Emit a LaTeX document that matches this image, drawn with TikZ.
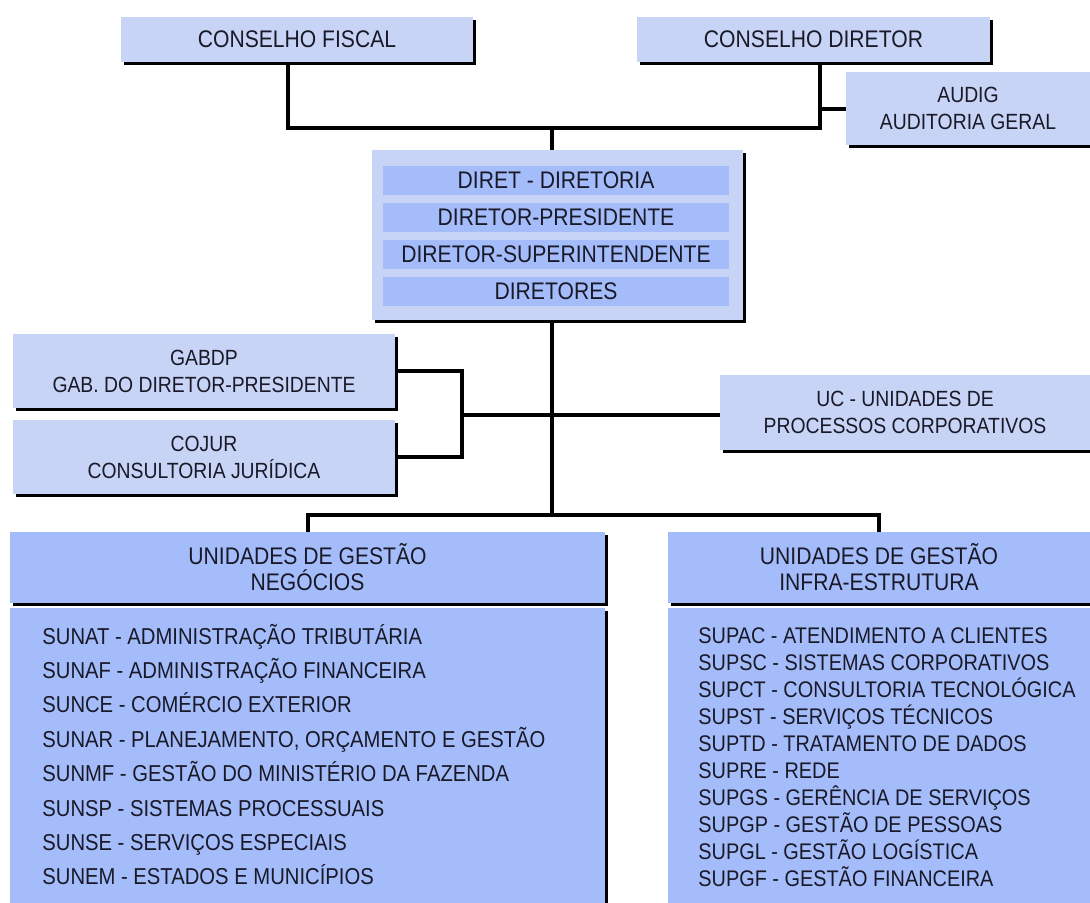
\documentclass[tikz,border=0pt]{standalone}
\usepackage{fontspec}
\setmainfont{Liberation Sans}[FakeStretch=0.88]
\usepackage{tikz}
\usetikzlibrary{shadows,positioning,calc}
\definecolor{boxlight}{RGB}{200,212,246}
\definecolor{boxdark}{RGB}{164,188,250}
\definecolor{ink}{RGB}{25,25,40}

\begin{document}
\begin{tikzpicture}[x=0.5pt,y=-0.5pt,
    orgbox/.style={fill=boxlight,text=ink,align=center,inner sep=0pt,
      font=\fontsize{12}{13}\selectfont,
      drop shadow={shadow xshift=1.5pt,shadow yshift=-1.5pt,fill=black,opacity=1}},
    sidebox/.style={orgbox,font=\fontsize{11}{13.5}\selectfont},
    unitbox/.style={orgbox,fill=boxdark},
    barbox/.style={fill=boxdark,text=ink,inner sep=0pt,minimum width=173pt,
      minimum height=14.5pt,font=\fontsize{12}{13}\selectfont},
    listtext/.style={anchor=base west,inner sep=0pt,text=ink,
      font=\fontsize{11.5}{13}\selectfont},
    link/.style={line width=2pt,line join=miter}]
  \useasboundingbox (0,0) rectangle (1090,902);

  % conselhos
  \node[orgbox,minimum width=176pt,minimum height=22.5pt](fiscal) at (297,39.5) {CONSELHO FISCAL};
  \node[orgbox,minimum width=176.5pt,minimum height=22.5pt](diretor) at (813.5,39.5) {CONSELHO DIRETOR};
  \node[sidebox,minimum width=122pt,minimum height=36.5pt](audig) at (968,108.5) {AUDIG\\AUDITORIA GERAL};

  % diretoria
  \node[orgbox,minimum width=185.5pt,minimum height=85pt](diret) at (557.5,235) {};
  \foreach \txt [count=\i] in {DIRET - DIRETORIA,DIRETOR-PRESIDENTE,DIRETOR-SUPERINTENDENTE,DIRETORES}
    \node[barbox](bar\i) at (556,{180+37*(\i-1)}) {\txt};

  % assessorias
  \node[sidebox,minimum width=191pt,minimum height=37pt](gabdp) at (204,371) {GABDP\\GAB. DO DIRETOR-PRESIDENTE};
  \node[sidebox,minimum width=191pt,minimum height=37pt](cojur) at (204,457) {COJUR\\CONSULTORIA JURÍDICA};
  \node[sidebox,minimum width=185pt,minimum height=37.5pt](uc) at (905,412.5) {UC - UNIDADES DE\\PROCESSOS CORPORATIVOS};

  % unidades de gestao
  \node[unitbox,minimum width=297.5pt,minimum height=35.5pt](neghead) at (307.5,567.5) {UNIDADES DE GESTÃO\\NEGÓCIOS};
  \node[unitbox,minimum width=297.5pt,minimum height=152pt](negbody) at (307.5,760) {};
  \node[unitbox,minimum width=211pt,minimum height=35.5pt](infrahead) at (879,567.5) {UNIDADES DE GESTÃO\\INFRA-ESTRUTURA};
  \node[unitbox,minimum width=211pt,minimum height=152pt](infrabody) at (879,760) {};

  \foreach \txt [count=\i] in {SUNAT - ADMINISTRAÇÃO TRIBUTÁRIA,SUNAF - ADMINISTRAÇÃO FINANCEIRA,
      SUNCE - COMÉRCIO EXTERIOR,{SUNAR - PLANEJAMENTO, ORÇAMENTO E GESTÃO},
      SUNMF - GESTÃO DO MINISTÉRIO DA FAZENDA,SUNSP - SISTEMAS PROCESSUAIS,
      SUNSE - SERVIÇOS ESPECIAIS,SUNEM - ESTADOS E MUNICÍPIOS}
    \node[listtext](neg\i) at (42,{644+34.4*(\i-1)}) {\txt};
  \foreach \txt [count=\i] in {SUPAC - ATENDIMENTO A CLIENTES,SUPSC - SISTEMAS CORPORATIVOS,
      SUPCT - CONSULTORIA TECNOLÓGICA,SUPST - SERVIÇOS TÉCNICOS,
      SUPTD - TRATAMENTO DE DADOS,SUPRE - REDE,SUPGS - GERÊNCIA DE SERVIÇOS,
      SUPGP - GESTÃO DE PESSOAS,SUPGL - GESTÃO LOGÍSTICA,SUPGF - GESTÃO FINANCEIRA}
    \node[listtext,font=\fontsize{11.3}{13}\selectfont](infra\i) at (698,{643+27.1*(\i-1)}) {\txt};

  % ligacoes
  \coordinate (lf) at (288,128);
  \coordinate (rt) at (820,128);
  \coordinate (top) at (552,128);
  \coordinate (bot) at (552,515);
  \coordinate (brk) at (462,415);
  \draw[link] (fiscal.south -| lf) -- (lf) -- (rt) -- (diretor.south -| rt);
  \draw[link] (rt |- audig.west) -- (audig.west);
  \draw[link] (top) -- (diret.north -| top);
  \draw[link] (diret.south -| top) -- (bot);
  \draw[link] (gabdp.east) -| (brk) |- (cojur.east);
  \draw[link] (brk) -- (brk -| uc.west);
  \draw[link] (neghead.north) |- (bot) -| (infrahead.north);
\end{tikzpicture}
\end{document}
